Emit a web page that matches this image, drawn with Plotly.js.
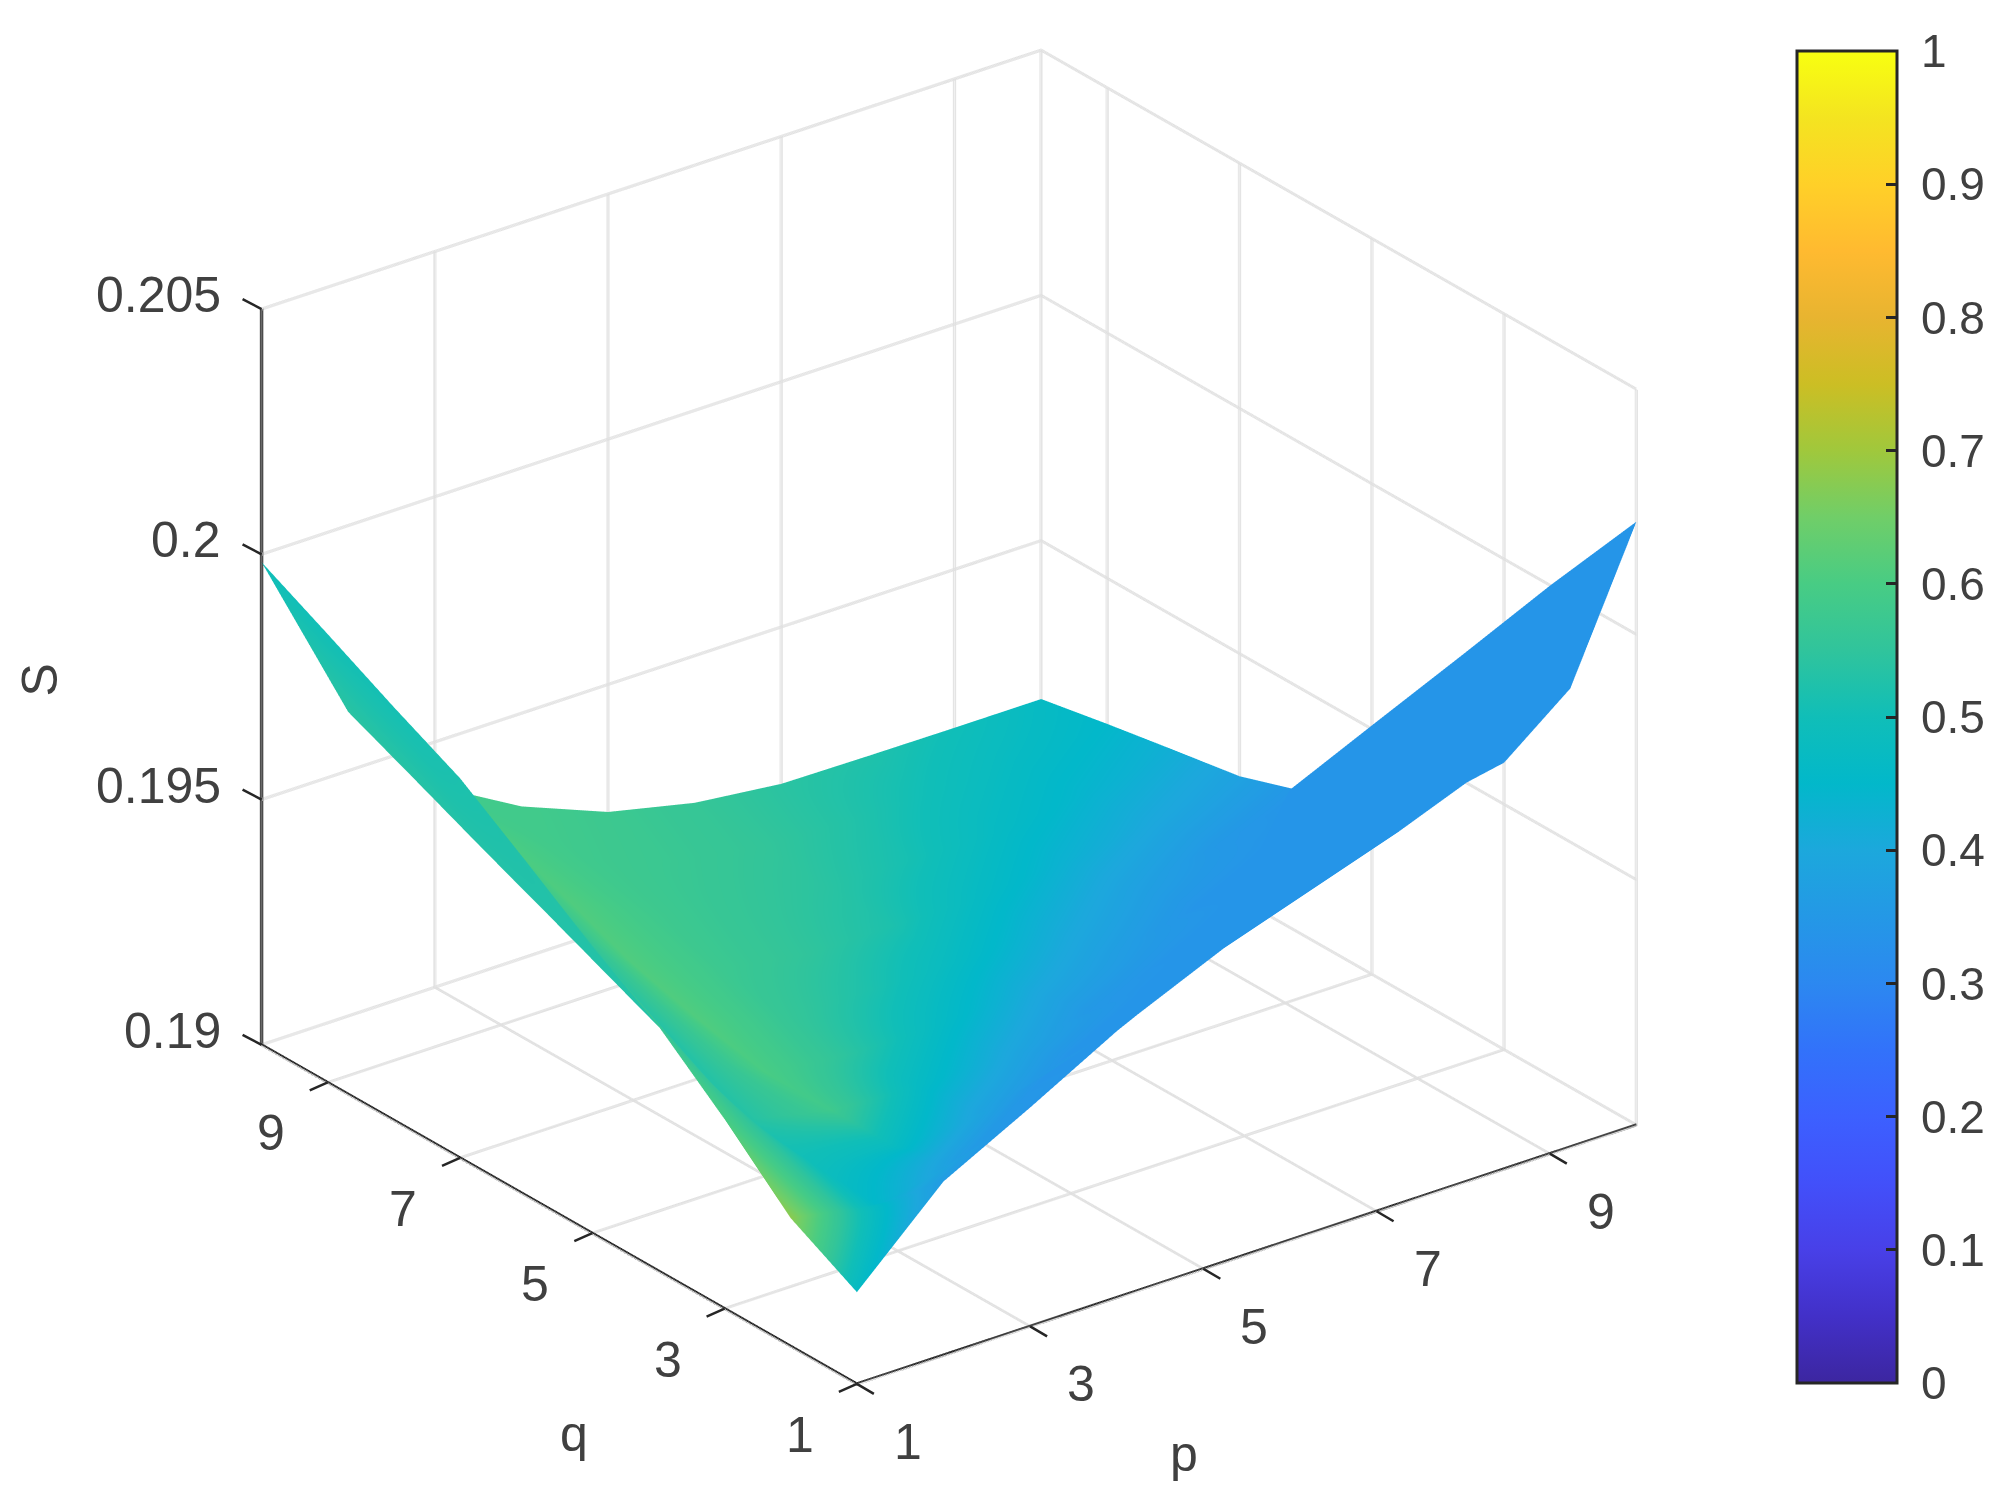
<!DOCTYPE html>
<html><head><meta charset="utf-8">
<script src="https://cdn.plot.ly/plotly-3.0.1.min.js"></script>
<style>html,body{margin:0;padding:0;background:#fff}#g{width:2008px;height:1506px}</style>
</head><body><div id="g"></div>
<script>
const pVals = [1,2,3,4,5,6,7,8,9,10];
const qVals = [1,2,3,4,5,6,7,8,9,10];
const tickVals = [1,3,5,7,9];
const zTicks = [0.19,0.195,0.2,0.205];
const zTickText = ['0.19','0.195','0.2','0.205'];
const pLim = [1,10], qLim = [1,10], zLim = [0.19,0.205];
// rows: q = 1..10, columns: p = 1..10
const S = [
[.19187,.19354,.19446,.19543,.19626,.19918,.19998,.20077,.20158,.2023],
[.19261,.1923,.19269,.19383,.19441,.19518,.19577,.19636,.19705,.19813],
[.19386,.1924,.1921,.19224,.19284,.19373,.19456,.1950,.1955,.19585],
[.19499,.19249,.1921,.1920,.19212,.19237,.19301,.19386,.1945,.1949],
[.19585,.1932,.1921,.1919,.1919,.19205,.19217,.19255,.19335,.19392],
[.19681,.1938,.19241,.19193,.19185,.19185,.19197,.19215,.19245,.19295],
[.19774,.1944,.19278,.1921,.1918,.1918,.1918,.19197,.19216,.1925],
[.19842,.19499,.19334,.1924,.19193,.1918,.1918,.1918,.19197,.19227],
[.19914,.1956,.19387,.19276,.19217,.19187,.1918,.1918,.1918,.19203],
[.19984,.1962,.1941,.1931,.1924,.1920,.1918,.19178,.19177,.19177]
];
const C = [
[.47,.36,.34,.34,.34,.34,.34,.34,.34,.34],
[.68,.45,.36,.34,.34,.34,.34,.34,.34,.34],
[.60,.50,.47,.38,.34,.34,.34,.34,.34,.34],
[.57,.53,.58,.47,.40,.35,.34,.34,.34,.34],
[.55,.53,.60,.54,.47,.41,.37,.34,.34,.34],
[.53,.53,.61,.56,.52,.47,.42,.38,.35,.34],
[.52,.53,.61,.575,.55,.52,.47,.43,.40,.38],
[.51,.53,.61,.58,.56,.54,.51,.47,.44,.42],
[.505,.535,.60,.58,.57,.555,.53,.50,.47,.45],
[.50,.54,.58,.585,.575,.56,.54,.525,.50,.47]
];
const parula = [
[0,'rgb(60,38,160)'],[.05,'rgb(66,48,200)'],[.1,'rgb(72,64,232)'],[.15,'rgb(66,80,250)'],[.2,'rgb(60,96,255)'],
[.25,'rgb(50,114,250)'],[.3,'rgb(44,136,240)'],[.35,'rgb(36,152,230)'],[.4,'rgb(28,168,220)'],[.45,'rgb(2,184,202)'],
[.5,'rgb(16,190,184)'],[.55,'rgb(48,196,156)'],[.6,'rgb(72,204,132)'],[.65,'rgb(112,206,104)'],[.7,'rgb(160,200,60)'],
[.75,'rgb(204,190,36)'],[.8,'rgb(232,180,48)'],[.85,'rgb(255,186,48)'],[.9,'rgb(255,208,40)'],[.95,'rgb(244,228,32)'],[1,'rgb(248,255,16)']
];
const ink = '#404040', dark = '#262626', font = 'Liberation Sans, Arial, sans-serif';
const [p0,p1] = pLim, [q0,q1] = qLim, [z0,z1] = zLim;
// WebGL draws 1px lines, so each line is laid down several times with a sub-pixel step
const dP = 0.008, dQ = 0.0105, dZ = 0.000014;
const padP = 0.04, padQ = 0.04, padZ = 0.00008;
const spanScale = 1.368;

function segments(list){
  const x=[],y=[],z=[];
  list.forEach(([a,b,d])=>{
    [-2,-1,0,1,2].forEach(k=>{
      x.push(a[0]+k*d[0],b[0]+k*d[0],null);
      y.push(a[1]+k*d[1],b[1]+k*d[1],null);
      z.push(a[2]+k*d[2],b[2]+k*d[2],null);
    });
  });
  return {x,y,z};
}
const alongP=[0,dQ,0], alongQ=[dP,0,0], flat=[0,0,dZ];
const gridSegs = [];
tickVals.forEach(p=>{
  gridSegs.push([[p,q1,z0],[p,q1,z1],alongQ]);
  gridSegs.push([[p,q0,z0],[p,q1,z0],alongQ]);
});
tickVals.forEach(q=>{
  gridSegs.push([[p1,q,z0],[p1,q,z1],alongP]);
  gridSegs.push([[p0,q,z0],[p1,q,z0],alongP]);
});
zTicks.forEach(z=>{
  gridSegs.push([[p0,q1,z],[p1,q1,z],flat]);
  gridSegs.push([[p1,q0,z],[p1,q1,z],flat]);
});
gridSegs.push([[p1,q1,z0],[p1,q1,z1],alongQ]);
gridSegs.push([[p1,q0,z0],[p1,q0,z1],alongP]);
gridSegs.push([[p1,q0,z0],[p1,q1,z0],alongP]);
gridSegs.push([[p0,q1,z0],[p1,q1,z0],alongQ]);
const axisSegs = [
  [[p0,q1,z0],[p0,q1,z1],alongQ],
  [[p0,q0,z0],[p1,q0,z0],flat],
  [[p0,q0,z0],[p0,q1,z0],flat]
];

const hidden = (range) => ({
  title:{text:''}, range, autorange:false, showgrid:false, showline:false, zeroline:false, showticklabels:false,
  ticks:'', showbackground:false, showspikes:false
});
const xa = hidden([p0-padP,p1+padP]);
const ya = hidden([q0-padQ,q1+padQ]);
const za = hidden([z0-padZ,z1+padZ]);

const annos = [];
function label(x,y,z,text,sx,sy,extra){
  annos.push(Object.assign({x,y,z,text:String(text),showarrow:false,xshift:sx,yshift:sy,
    font:{size:50,color:ink,family:font}},extra||{}));
}
function tick(x,y,z,ax,ay){
  annos.push({x,y,z,text:' ',showarrow:true,arrowhead:0,arrowwidth:2.5,arrowcolor:dark,ax,ay,standoff:0,startstandoff:0,
    font:{size:1,color:'#fff'},borderpad:0,borderwidth:0});
}
tickVals.forEach(v=>{
  tick(v,q0,z0,17,10);
  tick(p0,v,z0,-18,8);
  label(v,q0,z0,v,51,-58);
  label(p0,v,z0,v,-57,-51);
});
zTicks.forEach((v,i)=>{
  tick(p0,q1,v,-19,-10);
  label(p0,q1,v,zTickText[i],-39,14,{xanchor:'right'});
});
label(5.5,q0,z0,'p',-63,-200);
label(p0,5.5,z0,'q',15,-220);
label(p0,q1,0.1975,'S',-222,-3,{textangle:-90});

const data = [
{type:'scatter3d',mode:'lines',...segments(gridSegs),line:{color:'#e0e0e0',width:1},hoverinfo:'skip',showlegend:false},
{type:'scatter3d',mode:'lines',...segments(axisSegs),line:{color:'#111111',width:1},hoverinfo:'skip',showlegend:false},
{
  type:'surface', x:pVals, y:qVals, z:S, surfacecolor:C, cmin:0, cmax:1, colorscale:parula,
  lighting:{ambient:1,diffuse:0,specular:0,roughness:1,fresnel:0},
  hoverinfo:'skip',
  colorbar:{
    x:1797/2008, xanchor:'left', xref:'paper', y:1-1383/1506, yanchor:'bottom', len:1332/1506, lenmode:'fraction',
    thickness:100, thicknessmode:'pixels', outlinewidth:3, outlinecolor:dark, borderwidth:0, xpad:0, ypad:0,
    tickmode:'linear', tick0:0, dtick:0.1, tickprefix:'\u00a0', ticks:'inside', ticklen:12, tickwidth:3, tickcolor:dark,
    tickfont:{size:46,color:ink,family:font}
  }
}];
const layout = {
  width:2008,height:1506,margin:{l:0,r:0,t:0,b:0},paper_bgcolor:'#fff',showlegend:false,
  scene:{
    domain:{x:[0,1898/2008],y:[1-1434/1506,1]},
    bgcolor:'#fff',
    aspectmode:'manual',
    aspectratio:{x:spanScale*(p1-p0+2*padP)/(p1-p0),y:spanScale*(q1-q0+2*padQ)/(q1-q0),z:spanScale*0.833*(z1-z0+2*padZ)/(z1-z0)},
    camera:{projection:{type:'orthographic'},up:{x:0,y:0,z:1},center:{x:0,y:0,z:0},
      eye:{x:-0.546*2,y:-0.715*2,z:0.4346*2}},
    xaxis:xa,yaxis:ya,zaxis:za,annotations:annos
  }
};
Plotly.newPlot('g',data,layout,{displayModeBar:false});
</script></body></html>
